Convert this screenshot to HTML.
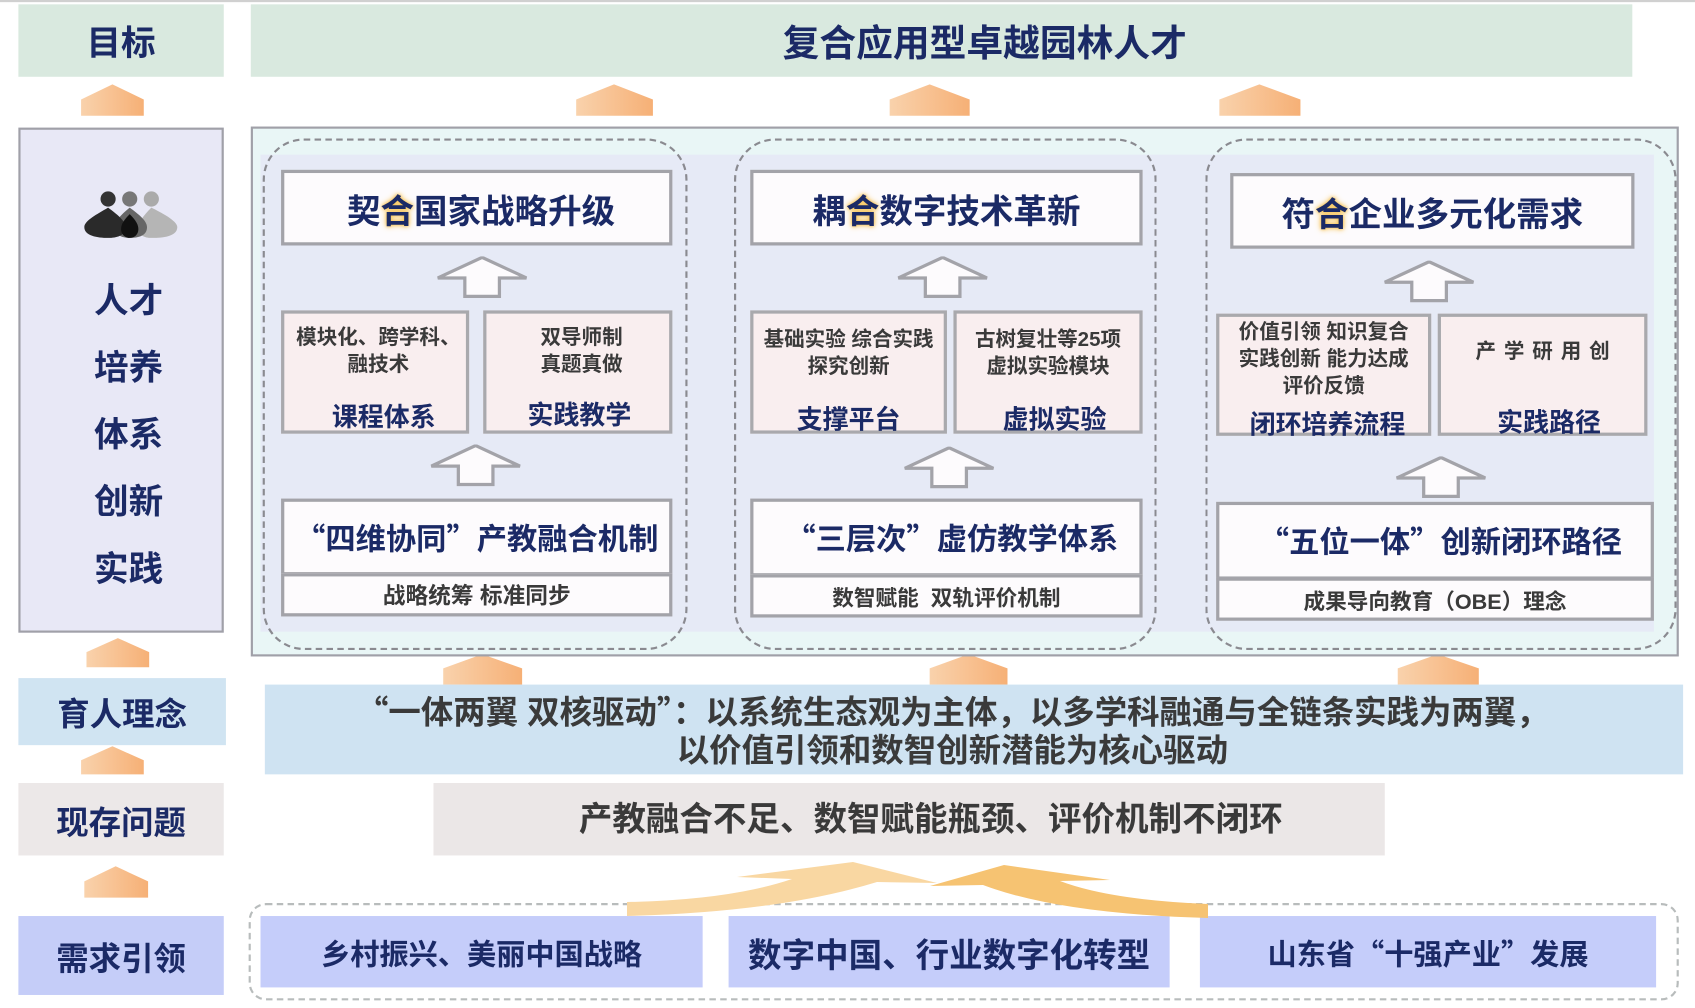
<!DOCTYPE html>
<html><head><meta charset="utf-8"><style>
*{margin:0;padding:0;box-sizing:border-box}
html,body{width:1695px;height:1008px;overflow:hidden;background:#fff}
#w{position:absolute;left:0;top:0;width:1568px;height:932px;transform:scale(1.081,1.0815);transform-origin:0 0;font-family:"Liberation Sans","Noto Sans CJK SC",sans-serif;font-weight:700}
.a{position:absolute}
.c{display:flex;align-items:center;justify-content:center;text-align:center}
.nv{color:#1b2a66}
.dg{color:#3a3a3a}
.q{font-family:"Noto Sans CJK SC",sans-serif}
.hd{background:#fdfbfd;border:3px solid #a3a3a9;font-size:31px}
.pk{background:#f9eeef;border:3px solid #a9a9ad}
.bx{background:#fdfbfd;border:3px solid #a3a3a9;font-size:28px}
.sb{background:#fdfbfd;border:3px solid #a3a3a9;font-size:20px}
.g{color:#1b2a66;text-shadow:0 0 6px #f7c04a,0 0 3px #f7c04a}
.sm{font-size:19px;line-height:25px;color:#3a3a3a}
.lb{font-size:24px;color:#1b2a66}
</style></head><body>
<div id="w">
<div class="a" style="left:0;top:0;width:1568px;height:2px;background:#d0d0d0"></div>
<div class="a c nv" style="left:17px;top:4px;width:190px;height:67px;background:#d9e9df;font-size:32px">目标</div>
<div class="a c nv" style="left:232px;top:4px;width:1278px;height:67px;background:#d9e9df;font-size:34px;padding-left:80px">复合应用型卓越园林人才</div>

<svg class="a" style="left:0;top:0" width="1568" height="932">
<defs><linearGradient id="og" x1="0" x2="1"><stop offset="0" stop-color="#f9d2ac"/><stop offset="1" stop-color="#f6b076"/></linearGradient>
<g id="hol"><polygon points="42,1 83,20 58,20 58,37 26,37 26,20 1,20" fill="#fdfbfd" stroke="#a3a3a9" stroke-width="3"/></g></defs>
<g fill="url(#og)">
<polygon points="75,92 104,78 133,92 133,107 75,107"/>
<polygon points="533,92 568,78 604,92 604,107 533,107"/>
<polygon points="823,92 860,78 897,92 897,107 823,107"/>
<polygon points="1128,92 1165,78 1203,92 1203,107 1128,107"/>
<polygon points="80,603 109,590 138,603 138,617 80,617"/>
<polygon points="410,618 446,605 483,618 483,633 410,633"/>
<polygon points="860,618 896,605 932,618 932,633 860,633"/>
<polygon points="1293,618 1330,605 1368,618 1368,633 1293,633"/>
<polygon points="75,703 104,690 133,703 133,716 75,716"/>
<polygon points="78,815 107,801 137,815 137,830 78,830"/>
</g>
</svg>

<div class="a" style="left:17px;top:118px;width:190px;height:467px;background:#e8e8f6;border:2px solid #a0a0a8"></div>
<svg class="a" style="left:76px;top:172px" width="90" height="50">
<g><circle cx="24" cy="12" r="7" fill="#333"/><circle cx="44" cy="12" r="7" fill="#777"/><circle cx="64" cy="12" r="7" fill="#aaa"/>
<path d="M64,20 C56,28 52,34 52,38 C52,46 58,48 64,48 C70,48 88,48 88,38 C88,32 72,24 64,20Z" fill="#b5b5b5"/>
<path d="M44,20 C34,28 30,34 30,38 C30,46 38,48 44,48 C52,48 60,46 60,38 C60,32 52,26 44,20Z" fill="#666"/>
<path d="M24,20 C14,26 2,32 2,38 C2,46 14,48 24,48 C32,48 40,46 40,38 C40,32 32,26 24,20Z" fill="#2a2a2a"/>
<path d="M44,26 C38,32 36,36 36,40 C36,45 40,48 44,48 C48,48 52,45 52,40 C52,36 50,32 44,26Z" fill="#111"/></g>
</svg>
<div class="a nv" style="left:17px;top:247px;width:204px;text-align:center;font-size:32px;line-height:62px">人才<br>培养<br>体系<br>创新<br>实践</div>

<div class="a" style="left:232px;top:117px;width:1321px;height:490px;background:#e9f6f6;border:2px solid #a0a0a8"></div>
<div class="a" style="left:241px;top:143px;width:1289px;height:441px;background:#e6eaf6"></div>
<div class="a" style="left:243px;top:128px;width:393px;height:473px;border:2px dashed #8a8a90;border-radius:38px"></div>
<div class="a" style="left:679px;top:128px;width:391px;height:473px;border:2px dashed #8a8a90;border-radius:38px"></div>
<div class="a" style="left:1115px;top:128px;width:436px;height:473px;border:2px dashed #8a8a90;border-radius:38px"></div>

<!-- col1 -->
<div class="a c hd nv" style="left:260px;top:157px;width:362px;height:70px;padding-left:8px">契<span class="g">合</span>国家战略升级</div>
<svg class="a" style="left:404px;top:237px" width="86" height="40"><use href="#hol"/></svg>
<div class="a pk" style="left:260px;top:287px;width:174px;height:114px"><div class="a sm" style="top:10px;width:190px;text-align:center;left:-8px">模块化、跨学科、<br>融技术</div><div class="a lb" style="left:0;top:76px;width:184px;text-align:center">课程体系</div></div>
<div class="a pk" style="left:447px;top:287px;width:175px;height:114px"><div class="a sm" style="left:0;top:10px;width:176px;text-align:center">双导师制<br>真题真做</div><div class="a lb" style="left:0;top:74px;width:172px;text-align:center">实践教学</div></div>
<svg class="a" style="left:398px;top:411px" width="86" height="40"><use href="#hol"/></svg>
<div class="a c bx nv" style="left:260px;top:461px;width:362px;height:71px"><span class="q">“</span>四维协同<span class="q">”</span>产教融合机制</div>
<div class="a c sb dg" style="left:260px;top:530px;width:362px;height:40px;font-size:21px">战略统筹 标准同步</div>

<!-- col2 -->
<div class="a c hd nv" style="left:694px;top:157px;width:363px;height:70px">耦<span class="g">合</span>数字技术革新</div>
<svg class="a" style="left:830px;top:237px" width="86" height="40"><use href="#hol"/></svg>
<div class="a pk" style="left:694px;top:287px;width:182px;height:114px"><div class="a sm" style="left:0;top:12px;width:176px;text-align:center">基础实验 综合实践<br>探究创新</div><div class="a lb" style="left:0;top:78px;width:176px;text-align:center">支撑平台</div></div>
<div class="a pk" style="left:882px;top:287px;width:175px;height:114px"><div class="a sm" style="left:0;top:12px;width:169px;text-align:center">古树复壮等25项<br>虚拟实验模块</div><div class="a lb" style="left:0;top:78px;width:181px;text-align:center">虚拟实验</div></div>
<svg class="a" style="left:836px;top:413px" width="86" height="40"><use href="#hol"/></svg>
<div class="a c bx nv" style="left:694px;top:461px;width:363px;height:72px;padding-left:10px"><span class="q">“</span>三层次<span class="q">”</span>虚仿教学体系</div>
<div class="a c sb dg" style="left:694px;top:531px;width:363px;height:40px">数智赋能&nbsp; 双轨评价机制</div>

<!-- col3 -->
<div class="a c hd nv" style="left:1138px;top:160px;width:374px;height:70px">符<span class="g">合</span>企业多元化需求</div>
<svg class="a" style="left:1280px;top:241px" width="86" height="40"><use href="#hol"/></svg>
<div class="a pk" style="left:1125px;top:290px;width:199px;height:113px"><div class="a sm" style="left:0;top:2px;width:193px;text-align:center">价值引领 知识复合<br>实践创新 能力达成<br>评价反馈</div><div class="a lb" style="left:0;top:80px;width:200px;text-align:center">闭环培养流程</div></div>
<div class="a pk" style="left:1330px;top:290px;width:194px;height:113px"><div class="a sm" style="left:0;top:20px;width:188px;text-align:center;word-spacing:2px">产 学 研 用 创</div><div class="a lb" style="left:0;top:78px;width:200px;text-align:center">实践路径</div></div>
<svg class="a" style="left:1291px;top:422px" width="86" height="40"><use href="#hol"/></svg>
<div class="a c bx nv" style="left:1125px;top:464px;width:405px;height:72px;padding-left:10px"><span class="q">“</span>五位一体<span class="q">”</span>创新闭环路径</div>
<div class="a c sb dg" style="left:1125px;top:534px;width:405px;height:40px">成果导向教育（OBE）理念</div>

<!-- lower -->
<div class="a c nv" style="left:17px;top:627px;width:192px;height:62px;background:#d0e4f2;font-size:30px">育人理念</div>
<div class="a c dg" style="left:245px;top:633px;width:1312px;height:83px;background:#cfe3f2;font-size:30px;line-height:35px;padding-top:2px;padding-right:40px"><div><span class="q">“</span>一体两翼 双核驱动<span class="q">”</span>：以系统生态观为主体，以多学科融通与全链条实践为两翼，<br>以价值引领和数智创新潜能为核心驱动</div></div>
<div class="a c nv" style="left:17px;top:724px;width:190px;height:67px;background:#ece8e8;font-size:30px">现存问题</div>
<div class="a c dg" style="left:401px;top:724px;width:880px;height:67px;background:#ebe7e7;font-size:31px;padding-left:40px;padding-top:-4px"><div style="margin-top:-6px">产教融合不足、数智赋能瓶颈、评价机制不闭环</div></div>

<div class="a" style="left:230px;top:835px;width:1323px;height:90px;border:2px dashed #b8bcbc;border-radius:16px"></div>
<div class="a c nv" style="left:17px;top:847px;width:190px;height:73px;background:#c5cdf8;font-size:30px">需求引领</div>
<div class="a c nv" style="left:241px;top:847px;width:409px;height:66px;background:#c5cdfa;font-size:27px">乡村振兴、美丽中国战略</div>
<div class="a c nv" style="left:674px;top:847px;width:408px;height:66px;background:#c5cdfa;font-size:31px">数字中国、行业数字化转型</div>
<div class="a c nv" style="left:1110px;top:847px;width:422px;height:66px;background:#c5cdfa;font-size:27px">山东省<span class="q">“</span>十强产业<span class="q">”</span>发展</div>
</div>
<svg class="a" style="position:absolute;left:0;top:0" width="1695" height="1008">
<path d="M627,916 Q780,912 877,882 L937,883 L853,862 L737,877 L792,879 Q730,900 627,902 Z" fill="#f9d7a2"/>
<path d="M1208,918 Q1060,914 983,885 L930,886 L1004,865 L1110,880 L1060,881 Q1110,900 1208,904 Z" fill="#f6c372"/>
</svg>
</body></html>
